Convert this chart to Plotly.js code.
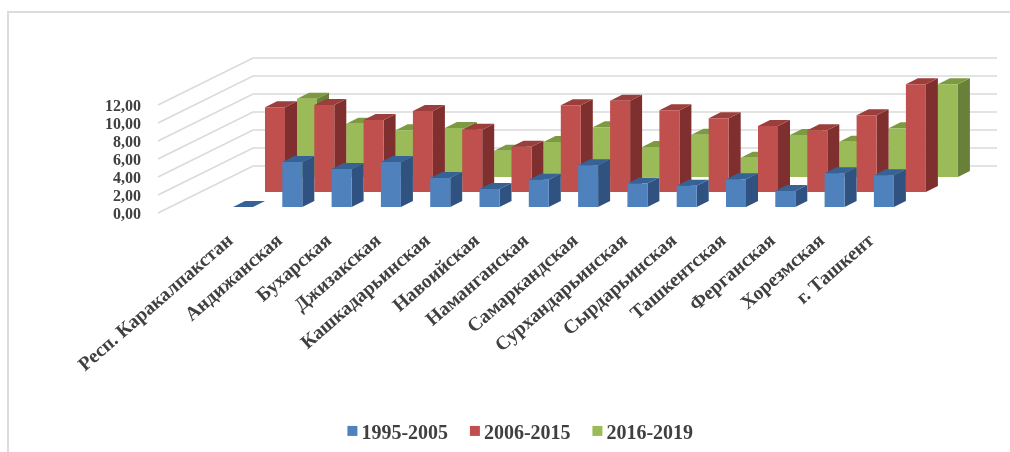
<!DOCTYPE html>
<html>
<head>
<meta charset="utf-8">
<script src="https://cdn.plot.ly/plotly-3.0.1.min.js"></script>
<style>
html,body{margin:0;padding:0;background:#fff;width:1010px;height:452px;overflow:hidden}
#frame{position:absolute;left:7px;top:11px;width:1003px;height:441px;border-left:2px solid #dcdcdc;border-top:2px solid #dcdcdc;box-sizing:border-box;filter:blur(0.5px)}
#chart{position:absolute;left:0;top:0;width:1010px;height:452px;filter:blur(0.5px)}
</style>
</head>
<body>
<div id="frame"></div>
<div id="chart"></div>
<script>
const categories = ["Респ. Каракалпакстан","Андижанская","Бухарская","Джизакская","Кашкадарьинская","Навоийская","Наманганская","Самаркандская","Сурхандарьинская","Сырдарьинская","Ташкентская","Ферганская","Хорезмская","г. Ташкент"];
const seriesNames = ["1995-2005","2006-2015","2016-2019"];
const values1995 = [0,5.0,4.22,5.0,3.22,2.0,3.04,4.63,2.6,2.37,3.07,1.78,3.74,3.52];
const values2006 = [9.41,9.67,8.0,9.0,6.93,5.04,9.63,10.15,9.07,8.19,7.33,6.85,8.52,11.96];
const values2016 = [8.7,5.93,5.2,5.44,2.93,3.89,5.52,3.33,4.7,2.15,4.67,3.93,5.41,10.3];
const yTicks = [0,2,4,6,8,10,12];

// 3D look: each series row sits further back, i.e. shifted right and up in axis units
const pxX = 49.3, pxY = 9;
const barW = 20/pxX, depthX = 12/pxX, depthY = 6/pxY;
const rowShiftX = 32/pxX;
const rows = [
  {name:seriesNames[2], vals:values2016, row:2, front:"#9bbb59", side:"#68803a", top:"#7c9a40"},
  {name:seriesNames[1], vals:values2006, row:1, front:"#c0504d", side:"#7f302e", top:"#9c3f3c"},
  {name:seriesNames[0], vals:values1995, row:0, front:"#4f81bd", side:"#2f5280", top:"#376296"}
];
const baseOf = r => depthY + r*15/pxY;
const wallX0 = 1+(158-233)/pxX, wallX1 = 1+(253-233)/pxX, wallX2 = 1+(997-233)/pxX, wallRise = 47/pxY;

const traces = [];
// walls
const gx = [], gy = [];
yTicks.forEach(v=>{ gx.push(wallX0,wallX1,wallX2,null); gy.push(v,v+wallRise,v+wallRise,null); });
traces.push({type:"scatter",mode:"lines",x:gx,y:gy,line:{color:"#dadada",width:1.6},hoverinfo:"skip",showlegend:false});

function face(xs,ys,color){
  return {type:"scatter",mode:"lines",x:xs,y:ys,fill:"toself",fillcolor:color,line:{width:0,color:color},hoverinfo:"skip",showlegend:false};
}
rows.forEach(s=>{
  const b = baseOf(s.row), sh = s.row*rowShiftX;
  const fx=[],fy=[],sx=[],sy=[],tx=[],ty=[];
  s.vals.forEach((v,i)=>{
    const x = i+1+sh, t = b+v;
    fx.push(x,x+barW,x+barW,x,x,null); fy.push(b,b,t,t,b,null);
    sx.push(x+barW,x+barW+depthX,x+barW+depthX,x+barW,x+barW,null); sy.push(b,b+depthY,t+depthY,t,b,null);
    tx.push(x,x+barW,x+barW+depthX,x+depthX,x,null); ty.push(t,t,t+depthY,t+depthY,t,null);
  });
  traces.push(face(sx,sy,s.side),face(tx,ty,s.top),face(fx,fy,s.front));
});
// legend entries
[rows[2],rows[1],rows[0]].forEach(s=>{
  traces.push({type:"scatter",mode:"markers",name:s.name,x:[1],y:[null],marker:{symbol:"square",size:10,color:s.front},hoverinfo:"skip"});
});

const serif = "Liberation Serif, serif";
const layout = {
  width:1010,height:452,
  paper_bgcolor:"rgba(0,0,0,0)",plot_bgcolor:"rgba(0,0,0,0)",
  margin:{l:146,r:10,t:45,b:228,pad:0,autoexpand:false},
  separators:", ",
  xaxis:{range:[1+(146-233)/pxX,1+(1000-233)/pxX],showgrid:false,zeroline:false,showline:false,ticks:"",
    tickmode:"array",tickvals:categories.map((c,i)=>i+0.89),ticktext:categories,tickangle:-41,
    tickfont:{family:serif,size:19.5,color:"#404040",weight:"bold"}},
  yaxis:{range:[-11/pxY,168/pxY],showgrid:false,zeroline:false,showline:false,ticks:"",
    tickmode:"array",tickvals:yTicks,tickformat:".2f",ticklabelstandoff:4,
    tickfont:{family:serif,size:16,color:"#404040",weight:"bold"}},
  showlegend:true,
  legend:{orientation:"h",x:0.2054,xanchor:"left",y:-1.156,yanchor:"middle",traceorder:"normal",
    entrywidth:77.5,entrywidthmode:"pixels",
    font:{family:serif,size:20,color:"#404040",weight:"bold"},bgcolor:"rgba(0,0,0,0)"},
  hovermode:false
};
Plotly.newPlot("chart",traces,layout,{displayModeBar:false,staticPlot:true}).then(()=>{
  document.querySelectorAll("#chart .legend .legendpoints").forEach(g=>g.setAttribute("transform","translate(11,0)"));
  document.querySelectorAll("#chart .legend .scrollbox, #chart .legend").forEach(g=>g.removeAttribute("clip-path"));
});
</script>
</body>
</html>
